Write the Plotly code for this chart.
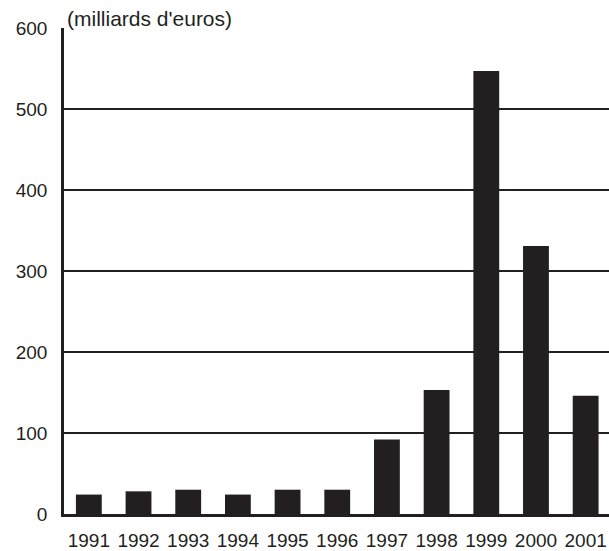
import plotly.graph_objects as go

# Annual amounts, in billions of euros
years = ["1991", "1992", "1993", "1994", "1995", "1996",
         "1997", "1998", "1999", "2000", "2001"]
amounts = [24, 28, 30, 24, 30, 30, 92, 153, 547, 331, 146]

y_ticks = [0, 100, 200, 300, 400, 500, 600]
unit_label = "(milliards d'euros)"

ink = "#231f20"
font_family = "Liberation Sans, Arial, Helvetica, sans-serif"

fig = go.Figure(
    go.Bar(
        x=years,
        y=amounts,
        marker=dict(color=ink, line=dict(width=0)),
        width=0.52,
        hoverinfo="x+y",
    )
)

fig.update_layout(
    width=609,
    height=551,
    margin=dict(l=64, r=0, t=28, b=34),
    paper_bgcolor="white",
    plot_bgcolor="white",
    showlegend=False,
    font=dict(family=font_family, size=19, color=ink),
)

fig.update_xaxes(
    type="category",
    range=[-0.5, 10.47],
    showgrid=False,
    showline=True,
    linecolor=ink,
    linewidth=2.5,
    ticks="",
    ticklabelstandoff=7,
    tickfont=dict(size=19, color=ink),
    zeroline=False,
)

fig.update_yaxes(
    range=[0, 600],
    tickvals=y_ticks,
    ticktext=[str(v) for v in y_ticks],
    showgrid=True,
    gridcolor=ink,
    gridwidth=1.5,
    showline=True,
    linecolor=ink,
    linewidth=2.5,
    ticks="",
    ticklabelstandoff=10,
    tickfont=dict(size=19, color=ink),
    zeroline=False,
)

fig.add_annotation(
    text=unit_label,
    xref="paper", yref="paper",
    x=0, y=1,
    xanchor="left", yanchor="bottom",
    xshift=1, yshift=-4,
    showarrow=False,
    font=dict(family=font_family, size=21, color=ink),
)

fig.write_html("out.html")
